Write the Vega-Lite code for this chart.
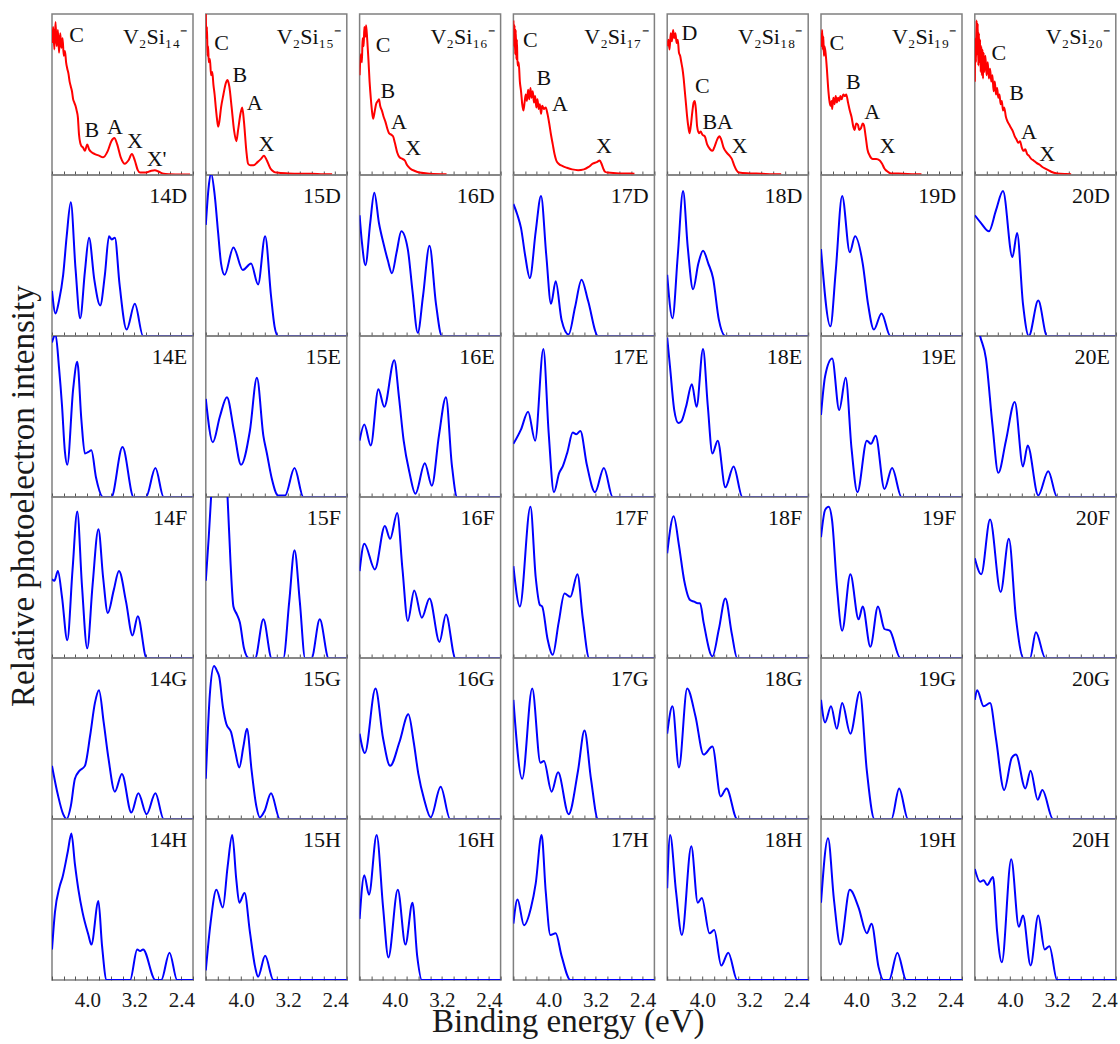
{
"$schema":"https://vega.github.io/schema/vega-lite/v6.json",
"background":"white",
"padding":{"left":8,"top":13,"right":0,"bottom":0},
"title":{"text":"Relative photoelectron intensity","orient":"left","anchor":"middle","fontSize":33,"fontWeight":"normal","font":"Liberation Serif","color":"#1a1a1a","offset":10,"dx":30},
"config":{"font":"Liberation Serif","view":{"stroke":"#808080","strokeWidth":1.5},"text":{"font":"Liberation Serif","fontSize":22,"baseline":"middle","color":"#111"}},
"datasets":{"s":[
{"c":14,"r":"X","x":4.6,"y":82},{"c":14,"r":"X","x":4.58,"y":92},{"c":14,"r":"X","x":4.56,"y":78},{"c":14,"r":"X","x":4.54,"y":95},{"c":14,"r":"X","x":4.52,"y":80},{"c":14,"r":"X","x":4.5,"y":90},{"c":14,"r":"X","x":4.48,"y":76},{"c":14,"r":"X","x":4.46,"y":88},{"c":14,"r":"X","x":4.44,"y":79},{"c":14,"r":"X","x":4.42,"y":85},{"c":14,"r":"X","x":4.4,"y":74},{"c":14,"r":"X","x":4.38,"y":77},{"c":14,"r":"X","x":4.36,"y":70},{"c":14,"r":"X","x":4.34,"y":66},{"c":14,"r":"X","x":4.32,"y":63},{"c":14,"r":"X","x":4.3,"y":58},{"c":14,"r":"X","x":4.28,"y":55},{"c":14,"r":"X","x":4.26,"y":52},{"c":14,"r":"X","x":4.24,"y":47},{"c":14,"r":"X","x":4.22,"y":45},{"c":14,"r":"X","x":4.2,"y":43},{"c":14,"r":"X","x":4.18,"y":40},{"c":14,"r":"X","x":4.16,"y":36},{"c":14,"r":"X","x":4.14,"y":25},{"c":14,"r":"X","x":4.12,"y":20},{"c":14,"r":"X","x":4.1,"y":18},{"c":14,"r":"X","x":4.07,"y":17},{"c":14,"r":"X","x":4.04,"y":15},{"c":14,"r":"X","x":4.0,"y":19},{"c":14,"r":"X","x":3.97,"y":16},{"c":14,"r":"X","x":3.92,"y":14},{"c":14,"r":"X","x":3.87,"y":13},{"c":14,"r":"X","x":3.8,"y":12},{"c":14,"r":"X","x":3.73,"y":11},{"c":14,"r":"X","x":3.65,"y":15},{"c":14,"r":"X","x":3.59,"y":21},{"c":14,"r":"X","x":3.54,"y":23},{"c":14,"r":"X","x":3.49,"y":19},{"c":14,"r":"X","x":3.43,"y":11},{"c":14,"r":"X","x":3.36,"y":7},{"c":14,"r":"X","x":3.3,"y":9},{"c":14,"r":"X","x":3.24,"y":13},{"c":14,"r":"X","x":3.19,"y":9},{"c":14,"r":"X","x":3.14,"y":3},{"c":14,"r":"X","x":3.1,"y":1.5},{"c":14,"r":"X","x":3.0,"y":1.5},{"c":14,"r":"X","x":2.92,"y":2.5},{"c":14,"r":"X","x":2.85,"y":3},{"c":14,"r":"X","x":2.78,"y":2},{"c":14,"r":"X","x":2.7,"y":0.8},{"c":14,"r":"X","x":2.6,"y":0.5},{"c":14,"r":"X","x":2.4,"y":0.3},{"c":14,"r":"X","x":2.25,"y":0.3},
{"c":15,"r":"X","x":4.6,"y":100},{"c":15,"r":"X","x":4.59,"y":85},{"c":15,"r":"X","x":4.58,"y":92},{"c":15,"r":"X","x":4.57,"y":74},{"c":15,"r":"X","x":4.56,"y":80},{"c":15,"r":"X","x":4.55,"y":70},{"c":15,"r":"X","x":4.53,"y":72},{"c":15,"r":"X","x":4.51,"y":62},{"c":15,"r":"X","x":4.49,"y":64},{"c":15,"r":"X","x":4.47,"y":56},{"c":15,"r":"X","x":4.45,"y":50},{"c":15,"r":"X","x":4.43,"y":42},{"c":15,"r":"X","x":4.41,"y":35},{"c":15,"r":"X","x":4.39,"y":30},{"c":15,"r":"X","x":4.37,"y":33},{"c":15,"r":"X","x":4.34,"y":42},{"c":15,"r":"X","x":4.3,"y":50},{"c":15,"r":"X","x":4.26,"y":57},{"c":15,"r":"X","x":4.23,"y":59},{"c":15,"r":"X","x":4.2,"y":55},{"c":15,"r":"X","x":4.16,"y":42},{"c":15,"r":"X","x":4.12,"y":28},{"c":15,"r":"X","x":4.08,"y":21},{"c":15,"r":"X","x":4.05,"y":28},{"c":15,"r":"X","x":4.01,"y":38},{"c":15,"r":"X","x":3.98,"y":42},{"c":15,"r":"X","x":3.95,"y":33},{"c":15,"r":"X","x":3.91,"y":15},{"c":15,"r":"X","x":3.88,"y":7},{"c":15,"r":"X","x":3.84,"y":6},{"c":15,"r":"X","x":3.79,"y":6},{"c":15,"r":"X","x":3.72,"y":8},{"c":15,"r":"X","x":3.66,"y":10},{"c":15,"r":"X","x":3.61,"y":12},{"c":15,"r":"X","x":3.56,"y":9},{"c":15,"r":"X","x":3.5,"y":4},{"c":15,"r":"X","x":3.44,"y":2},{"c":15,"r":"X","x":3.39,"y":1.5},{"c":15,"r":"X","x":3.2,"y":1},{"c":15,"r":"X","x":3.0,"y":0.8},{"c":15,"r":"X","x":2.8,"y":0.8},{"c":15,"r":"X","x":2.6,"y":0.5},{"c":15,"r":"X","x":2.45,"y":0.5},
{"c":16,"r":"X","x":4.6,"y":62},{"c":16,"r":"X","x":4.58,"y":75},{"c":16,"r":"X","x":4.56,"y":70},{"c":16,"r":"X","x":4.55,"y":85},{"c":16,"r":"X","x":4.53,"y":80},{"c":16,"r":"X","x":4.52,"y":92},{"c":16,"r":"X","x":4.5,"y":86},{"c":16,"r":"X","x":4.49,"y":93},{"c":16,"r":"X","x":4.47,"y":84},{"c":16,"r":"X","x":4.45,"y":72},{"c":16,"r":"X","x":4.43,"y":58},{"c":16,"r":"X","x":4.41,"y":48},{"c":16,"r":"X","x":4.39,"y":40},{"c":16,"r":"X","x":4.37,"y":35},{"c":16,"r":"X","x":4.35,"y":38},{"c":16,"r":"X","x":4.32,"y":44},{"c":16,"r":"X","x":4.29,"y":46},{"c":16,"r":"X","x":4.27,"y":47},{"c":16,"r":"X","x":4.25,"y":43},{"c":16,"r":"X","x":4.22,"y":40},{"c":16,"r":"X","x":4.19,"y":36},{"c":16,"r":"X","x":4.16,"y":33},{"c":16,"r":"X","x":4.13,"y":29},{"c":16,"r":"X","x":4.1,"y":26},{"c":16,"r":"X","x":4.06,"y":25},{"c":16,"r":"X","x":4.03,"y":24},{"c":16,"r":"X","x":4.0,"y":20},{"c":16,"r":"X","x":3.96,"y":14},{"c":16,"r":"X","x":3.92,"y":11},{"c":16,"r":"X","x":3.87,"y":10},{"c":16,"r":"X","x":3.83,"y":9},{"c":16,"r":"X","x":3.79,"y":6},{"c":16,"r":"X","x":3.74,"y":4},{"c":16,"r":"X","x":3.66,"y":2.5},{"c":16,"r":"X","x":3.58,"y":1.5},{"c":16,"r":"X","x":3.4,"y":0.8},{"c":16,"r":"X","x":3.12,"y":0.5},
{"c":17,"r":"X","x":4.6,"y":96},{"c":17,"r":"X","x":4.59,"y":80},{"c":17,"r":"X","x":4.58,"y":93},{"c":17,"r":"X","x":4.57,"y":75},{"c":17,"r":"X","x":4.56,"y":90},{"c":17,"r":"X","x":4.55,"y":72},{"c":17,"r":"X","x":4.54,"y":84},{"c":17,"r":"X","x":4.53,"y":68},{"c":17,"r":"X","x":4.51,"y":70},{"c":17,"r":"X","x":4.49,"y":58},{"c":17,"r":"X","x":4.47,"y":52},{"c":17,"r":"X","x":4.45,"y":44},{"c":17,"r":"X","x":4.43,"y":40},{"c":17,"r":"X","x":4.41,"y":45},{"c":17,"r":"X","x":4.39,"y":50},{"c":17,"r":"X","x":4.37,"y":46},{"c":17,"r":"X","x":4.35,"y":53},{"c":17,"r":"X","x":4.33,"y":47},{"c":17,"r":"X","x":4.31,"y":54},{"c":17,"r":"X","x":4.29,"y":48},{"c":17,"r":"X","x":4.27,"y":52},{"c":17,"r":"X","x":4.25,"y":45},{"c":17,"r":"X","x":4.23,"y":49},{"c":17,"r":"X","x":4.21,"y":42},{"c":17,"r":"X","x":4.19,"y":47},{"c":17,"r":"X","x":4.17,"y":41},{"c":17,"r":"X","x":4.15,"y":44},{"c":17,"r":"X","x":4.13,"y":38},{"c":17,"r":"X","x":4.11,"y":43},{"c":17,"r":"X","x":4.08,"y":41},{"c":17,"r":"X","x":4.05,"y":42},{"c":17,"r":"X","x":4.02,"y":38},{"c":17,"r":"X","x":3.99,"y":32},{"c":17,"r":"X","x":3.96,"y":25},{"c":17,"r":"X","x":3.93,"y":19},{"c":17,"r":"X","x":3.9,"y":13},{"c":17,"r":"X","x":3.87,"y":9},{"c":17,"r":"X","x":3.83,"y":7},{"c":17,"r":"X","x":3.76,"y":5.5},{"c":17,"r":"X","x":3.69,"y":4.5},{"c":17,"r":"X","x":3.6,"y":3.5},{"c":17,"r":"X","x":3.5,"y":3},{"c":17,"r":"X","x":3.4,"y":3.5},{"c":17,"r":"X","x":3.32,"y":5},{"c":17,"r":"X","x":3.25,"y":7},{"c":17,"r":"X","x":3.18,"y":8},{"c":17,"r":"X","x":3.13,"y":9},{"c":17,"r":"X","x":3.1,"y":7},{"c":17,"r":"X","x":3.07,"y":4},{"c":17,"r":"X","x":3.04,"y":2},{"c":17,"r":"X","x":3.0,"y":1.5},{"c":17,"r":"X","x":2.8,"y":1},{"c":17,"r":"X","x":2.6,"y":1},{"c":17,"r":"X","x":2.54,"y":0.8},
{"c":18,"r":"X","x":4.6,"y":80},{"c":18,"r":"X","x":4.58,"y":84},{"c":18,"r":"X","x":4.56,"y":78},{"c":18,"r":"X","x":4.54,"y":88},{"c":18,"r":"X","x":4.52,"y":83},{"c":18,"r":"X","x":4.5,"y":90},{"c":18,"r":"X","x":4.48,"y":85},{"c":18,"r":"X","x":4.46,"y":88},{"c":18,"r":"X","x":4.44,"y":82},{"c":18,"r":"X","x":4.42,"y":84},{"c":18,"r":"X","x":4.4,"y":76},{"c":18,"r":"X","x":4.38,"y":74},{"c":18,"r":"X","x":4.36,"y":70},{"c":18,"r":"X","x":4.34,"y":66},{"c":18,"r":"X","x":4.32,"y":60},{"c":18,"r":"X","x":4.3,"y":52},{"c":18,"r":"X","x":4.28,"y":44},{"c":18,"r":"X","x":4.26,"y":36},{"c":18,"r":"X","x":4.24,"y":30},{"c":18,"r":"X","x":4.22,"y":26},{"c":18,"r":"X","x":4.2,"y":30},{"c":18,"r":"X","x":4.17,"y":40},{"c":18,"r":"X","x":4.15,"y":45},{"c":18,"r":"X","x":4.13,"y":46},{"c":18,"r":"X","x":4.11,"y":40},{"c":18,"r":"X","x":4.09,"y":30},{"c":18,"r":"X","x":4.06,"y":26},{"c":18,"r":"X","x":4.03,"y":27},{"c":18,"r":"X","x":4.0,"y":25},{"c":18,"r":"X","x":3.96,"y":24},{"c":18,"r":"X","x":3.92,"y":19},{"c":18,"r":"X","x":3.87,"y":16},{"c":18,"r":"X","x":3.83,"y":15},{"c":18,"r":"X","x":3.79,"y":18},{"c":18,"r":"X","x":3.75,"y":22},{"c":18,"r":"X","x":3.71,"y":24},{"c":18,"r":"X","x":3.68,"y":22},{"c":18,"r":"X","x":3.64,"y":17},{"c":18,"r":"X","x":3.59,"y":14},{"c":18,"r":"X","x":3.54,"y":12},{"c":18,"r":"X","x":3.5,"y":10},{"c":18,"r":"X","x":3.46,"y":6},{"c":18,"r":"X","x":3.42,"y":3},{"c":18,"r":"X","x":3.38,"y":1.5},{"c":18,"r":"X","x":3.2,"y":1},{"c":18,"r":"X","x":3.0,"y":0.8},{"c":18,"r":"X","x":2.8,"y":0.5},{"c":18,"r":"X","x":2.66,"y":0.5},
{"c":19,"r":"X","x":4.6,"y":88},{"c":19,"r":"X","x":4.59,"y":80},{"c":19,"r":"X","x":4.58,"y":90},{"c":19,"r":"X","x":4.57,"y":78},{"c":19,"r":"X","x":4.56,"y":86},{"c":19,"r":"X","x":4.55,"y":74},{"c":19,"r":"X","x":4.54,"y":80},{"c":19,"r":"X","x":4.52,"y":75},{"c":19,"r":"X","x":4.5,"y":66},{"c":19,"r":"X","x":4.48,"y":55},{"c":19,"r":"X","x":4.46,"y":47},{"c":19,"r":"X","x":4.44,"y":43},{"c":19,"r":"X","x":4.42,"y":46},{"c":19,"r":"X","x":4.41,"y":41},{"c":19,"r":"X","x":4.39,"y":48},{"c":19,"r":"X","x":4.37,"y":44},{"c":19,"r":"X","x":4.35,"y":49},{"c":19,"r":"X","x":4.33,"y":45},{"c":19,"r":"X","x":4.31,"y":48},{"c":19,"r":"X","x":4.29,"y":46},{"c":19,"r":"X","x":4.27,"y":49},{"c":19,"r":"X","x":4.25,"y":47},{"c":19,"r":"X","x":4.22,"y":50},{"c":19,"r":"X","x":4.19,"y":49},{"c":19,"r":"X","x":4.17,"y":50},{"c":19,"r":"X","x":4.14,"y":45},{"c":19,"r":"X","x":4.11,"y":40},{"c":19,"r":"X","x":4.08,"y":36},{"c":19,"r":"X","x":4.05,"y":30},{"c":19,"r":"X","x":4.03,"y":28},{"c":19,"r":"X","x":4.0,"y":32},{"c":19,"r":"X","x":3.97,"y":31},{"c":19,"r":"X","x":3.95,"y":28},{"c":19,"r":"X","x":3.92,"y":29},{"c":19,"r":"X","x":3.89,"y":32},{"c":19,"r":"X","x":3.87,"y":31},{"c":19,"r":"X","x":3.84,"y":24},{"c":19,"r":"X","x":3.81,"y":16},{"c":19,"r":"X","x":3.77,"y":12},{"c":19,"r":"X","x":3.72,"y":10},{"c":19,"r":"X","x":3.66,"y":10},{"c":19,"r":"X","x":3.6,"y":9},{"c":19,"r":"X","x":3.56,"y":7},{"c":19,"r":"X","x":3.52,"y":4},{"c":19,"r":"X","x":3.48,"y":2.5},{"c":19,"r":"X","x":3.41,"y":1},{"c":19,"r":"X","x":3.2,"y":0.8},{"c":19,"r":"X","x":3.0,"y":0.5},{"c":19,"r":"X","x":2.89,"y":0.5},
{"c":20,"r":"X","x":4.6,"y":58},{"c":20,"r":"X","x":4.59,"y":85},{"c":20,"r":"X","x":4.58,"y":70},{"c":20,"r":"X","x":4.57,"y":96},{"c":20,"r":"X","x":4.56,"y":75},{"c":20,"r":"X","x":4.55,"y":94},{"c":20,"r":"X","x":4.54,"y":68},{"c":20,"r":"X","x":4.53,"y":88},{"c":20,"r":"X","x":4.52,"y":70},{"c":20,"r":"X","x":4.51,"y":84},{"c":20,"r":"X","x":4.5,"y":64},{"c":20,"r":"X","x":4.49,"y":80},{"c":20,"r":"X","x":4.48,"y":62},{"c":20,"r":"X","x":4.47,"y":78},{"c":20,"r":"X","x":4.46,"y":60},{"c":20,"r":"X","x":4.45,"y":76},{"c":20,"r":"X","x":4.44,"y":64},{"c":20,"r":"X","x":4.42,"y":74},{"c":20,"r":"X","x":4.4,"y":62},{"c":20,"r":"X","x":4.38,"y":70},{"c":20,"r":"X","x":4.36,"y":60},{"c":20,"r":"X","x":4.34,"y":66},{"c":20,"r":"X","x":4.32,"y":58},{"c":20,"r":"X","x":4.3,"y":62},{"c":20,"r":"X","x":4.28,"y":52},{"c":20,"r":"X","x":4.26,"y":58},{"c":20,"r":"X","x":4.24,"y":50},{"c":20,"r":"X","x":4.22,"y":54},{"c":20,"r":"X","x":4.2,"y":48},{"c":20,"r":"X","x":4.18,"y":50},{"c":20,"r":"X","x":4.16,"y":44},{"c":20,"r":"X","x":4.14,"y":46},{"c":20,"r":"X","x":4.12,"y":40},{"c":20,"r":"X","x":4.1,"y":42},{"c":20,"r":"X","x":4.07,"y":36},{"c":20,"r":"X","x":4.04,"y":33},{"c":20,"r":"X","x":4.01,"y":31},{"c":20,"r":"X","x":3.98,"y":29},{"c":20,"r":"X","x":3.95,"y":27},{"c":20,"r":"X","x":3.92,"y":24},{"c":20,"r":"X","x":3.89,"y":22},{"c":20,"r":"X","x":3.86,"y":20},{"c":20,"r":"X","x":3.83,"y":21},{"c":20,"r":"X","x":3.8,"y":17},{"c":20,"r":"X","x":3.77,"y":15},{"c":20,"r":"X","x":3.74,"y":16},{"c":20,"r":"X","x":3.71,"y":13},{"c":20,"r":"X","x":3.68,"y":12},{"c":20,"r":"X","x":3.64,"y":10},{"c":20,"r":"X","x":3.6,"y":9},{"c":20,"r":"X","x":3.55,"y":7.5},{"c":20,"r":"X","x":3.5,"y":6.5},{"c":20,"r":"X","x":3.45,"y":5},{"c":20,"r":"X","x":3.4,"y":4},{"c":20,"r":"X","x":3.35,"y":3},{"c":20,"r":"X","x":3.3,"y":2},{"c":20,"r":"X","x":3.2,"y":1},{"c":20,"r":"X","x":3.05,"y":0.6},{"c":20,"r":"X","x":2.96,"y":0.5},
{"c":14,"r":"D","x":4.6,"y":28},{"c":14,"r":"D","x":4.54,"y":14},{"c":14,"r":"D","x":4.48,"y":22},{"c":14,"r":"D","x":4.41,"y":38},{"c":14,"r":"D","x":4.35,"y":62},{"c":14,"r":"D","x":4.28,"y":83},{"c":14,"r":"D","x":4.2,"y":42},{"c":14,"r":"D","x":4.12,"y":11},{"c":14,"r":"D","x":4.04,"y":40},{"c":14,"r":"D","x":3.97,"y":61},{"c":14,"r":"D","x":3.88,"y":35},{"c":14,"r":"D","x":3.78,"y":19},{"c":14,"r":"D","x":3.7,"y":38},{"c":14,"r":"D","x":3.63,"y":62},{"c":14,"r":"D","x":3.585,"y":60},{"c":14,"r":"D","x":3.53,"y":61},{"c":14,"r":"D","x":3.45,"y":32},{"c":14,"r":"D","x":3.33,"y":4},{"c":14,"r":"D","x":3.19,"y":20},{"c":14,"r":"D","x":3.05,"y":0},{"c":14,"r":"D","x":2.2,"y":0},
{"c":14,"r":"E","x":4.6,"y":96},{"c":14,"r":"E","x":4.54,"y":101},{"c":14,"r":"E","x":4.48,"y":80},{"c":14,"r":"E","x":4.43,"y":57},{"c":14,"r":"E","x":4.38,"y":28},{"c":14,"r":"E","x":4.34,"y":20},{"c":14,"r":"E","x":4.24,"y":67},{"c":14,"r":"E","x":4.17,"y":84},{"c":14,"r":"E","x":4.1,"y":48},{"c":14,"r":"E","x":4.04,"y":27},{"c":14,"r":"E","x":3.98,"y":28},{"c":14,"r":"E","x":3.93,"y":29},{"c":14,"r":"E","x":3.85,"y":12},{"c":14,"r":"E","x":3.73,"y":0},{"c":14,"r":"E","x":3.59,"y":0},{"c":14,"r":"E","x":3.4,"y":31},{"c":14,"r":"E","x":3.21,"y":0},{"c":14,"r":"E","x":3.0,"y":0},{"c":14,"r":"E","x":2.84,"y":18},{"c":14,"r":"E","x":2.7,"y":0},{"c":14,"r":"E","x":2.2,"y":0},
{"c":14,"r":"F","x":4.6,"y":49},{"c":14,"r":"F","x":4.56,"y":48},{"c":14,"r":"F","x":4.5,"y":54},{"c":14,"r":"F","x":4.43,"y":38},{"c":14,"r":"F","x":4.34,"y":11},{"c":14,"r":"F","x":4.25,"y":55},{"c":14,"r":"F","x":4.17,"y":91},{"c":14,"r":"F","x":4.09,"y":45},{"c":14,"r":"F","x":4.0,"y":6},{"c":14,"r":"F","x":3.91,"y":45},{"c":14,"r":"F","x":3.81,"y":80},{"c":14,"r":"F","x":3.73,"y":50},{"c":14,"r":"F","x":3.65,"y":28},{"c":14,"r":"F","x":3.55,"y":42},{"c":14,"r":"F","x":3.46,"y":54},{"c":14,"r":"F","x":3.34,"y":35},{"c":14,"r":"F","x":3.23,"y":14},{"c":14,"r":"F","x":3.14,"y":26},{"c":14,"r":"F","x":2.99,"y":0},{"c":14,"r":"F","x":2.2,"y":0},
{"c":14,"r":"G","x":4.6,"y":33},{"c":14,"r":"G","x":4.5,"y":15},{"c":14,"r":"G","x":4.41,"y":3},{"c":14,"r":"G","x":4.35,"y":0},{"c":14,"r":"G","x":4.28,"y":8},{"c":14,"r":"G","x":4.21,"y":25},{"c":14,"r":"G","x":4.13,"y":30},{"c":14,"r":"G","x":4.04,"y":33},{"c":14,"r":"G","x":3.95,"y":52},{"c":14,"r":"G","x":3.87,"y":72},{"c":14,"r":"G","x":3.8,"y":80},{"c":14,"r":"G","x":3.72,"y":60},{"c":14,"r":"G","x":3.64,"y":38},{"c":14,"r":"G","x":3.53,"y":17},{"c":14,"r":"G","x":3.41,"y":28},{"c":14,"r":"G","x":3.25,"y":4},{"c":14,"r":"G","x":3.13,"y":16},{"c":14,"r":"G","x":2.99,"y":3},{"c":14,"r":"G","x":2.84,"y":16},{"c":14,"r":"G","x":2.7,"y":0},{"c":14,"r":"G","x":2.2,"y":0},
{"c":14,"r":"H","x":4.6,"y":19},{"c":14,"r":"H","x":4.55,"y":42},{"c":14,"r":"H","x":4.47,"y":58},{"c":14,"r":"H","x":4.42,"y":64},{"c":14,"r":"H","x":4.33,"y":80},{"c":14,"r":"H","x":4.27,"y":91},{"c":14,"r":"H","x":4.21,"y":72},{"c":14,"r":"H","x":4.15,"y":56},{"c":14,"r":"H","x":4.08,"y":42},{"c":14,"r":"H","x":3.98,"y":28},{"c":14,"r":"H","x":3.93,"y":22},{"c":14,"r":"H","x":3.81,"y":49},{"c":14,"r":"H","x":3.75,"y":22},{"c":14,"r":"H","x":3.67,"y":0},{"c":14,"r":"H","x":3.27,"y":0},{"c":14,"r":"H","x":3.15,"y":19},{"c":14,"r":"H","x":3.1,"y":18},{"c":14,"r":"H","x":3.05,"y":19},{"c":14,"r":"H","x":2.84,"y":0},{"c":14,"r":"H","x":2.74,"y":0},{"c":14,"r":"H","x":2.6,"y":17},{"c":14,"r":"H","x":2.47,"y":0},{"c":14,"r":"H","x":2.2,"y":0},
{"c":15,"r":"D","x":4.6,"y":69},{"c":15,"r":"D","x":4.55,"y":93},{"c":15,"r":"D","x":4.51,"y":101},{"c":15,"r":"D","x":4.45,"y":88},{"c":15,"r":"D","x":4.39,"y":64},{"c":15,"r":"D","x":4.34,"y":45},{"c":15,"r":"D","x":4.28,"y":38},{"c":15,"r":"D","x":4.13,"y":55},{"c":15,"r":"D","x":3.97,"y":41},{"c":15,"r":"D","x":3.83,"y":45},{"c":15,"r":"D","x":3.71,"y":32},{"c":15,"r":"D","x":3.59,"y":62},{"c":15,"r":"D","x":3.49,"y":25},{"c":15,"r":"D","x":3.43,"y":6},{"c":15,"r":"D","x":3.37,"y":0},{"c":15,"r":"D","x":2.2,"y":0},
{"c":15,"r":"E","x":4.6,"y":61},{"c":15,"r":"E","x":4.48,"y":34},{"c":15,"r":"E","x":4.36,"y":50},{"c":15,"r":"E","x":4.24,"y":62},{"c":15,"r":"E","x":4.12,"y":41},{"c":15,"r":"E","x":4.0,"y":20},{"c":15,"r":"E","x":3.85,"y":41},{"c":15,"r":"E","x":3.73,"y":74},{"c":15,"r":"E","x":3.62,"y":38},{"c":15,"r":"E","x":3.56,"y":27},{"c":15,"r":"E","x":3.48,"y":12},{"c":15,"r":"E","x":3.37,"y":1},{"c":15,"r":"E","x":3.25,"y":1},{"c":15,"r":"E","x":3.09,"y":18},{"c":15,"r":"E","x":2.94,"y":0},{"c":15,"r":"E","x":2.2,"y":0},
{"c":15,"r":"F","x":4.6,"y":48},{"c":15,"r":"F","x":4.55,"y":75},{"c":15,"r":"F","x":4.51,"y":100},{"c":15,"r":"F","x":4.45,"y":135},{"c":15,"r":"F","x":4.38,"y":145},{"c":15,"r":"F","x":4.3,"y":135},{"c":15,"r":"F","x":4.23,"y":100},{"c":15,"r":"F","x":4.18,"y":60},{"c":15,"r":"F","x":4.13,"y":32},{"c":15,"r":"F","x":4.07,"y":27},{"c":15,"r":"F","x":4.02,"y":22},{"c":15,"r":"F","x":3.95,"y":6},{"c":15,"r":"F","x":3.87,"y":0},{"c":15,"r":"F","x":3.76,"y":0},{"c":15,"r":"F","x":3.62,"y":24},{"c":15,"r":"F","x":3.48,"y":0},{"c":15,"r":"F","x":3.28,"y":0},{"c":15,"r":"F","x":3.18,"y":35},{"c":15,"r":"F","x":3.09,"y":67},{"c":15,"r":"F","x":3.0,"y":35},{"c":15,"r":"F","x":2.91,"y":0},{"c":15,"r":"F","x":2.8,"y":0},{"c":15,"r":"F","x":2.66,"y":24},{"c":15,"r":"F","x":2.51,"y":0},{"c":15,"r":"F","x":2.2,"y":0},
{"c":15,"r":"G","x":4.6,"y":25},{"c":15,"r":"G","x":4.53,"y":78},{"c":15,"r":"G","x":4.46,"y":95},{"c":15,"r":"G","x":4.41,"y":92},{"c":15,"r":"G","x":4.37,"y":88},{"c":15,"r":"G","x":4.31,"y":70},{"c":15,"r":"G","x":4.25,"y":59},{"c":15,"r":"G","x":4.17,"y":54},{"c":15,"r":"G","x":4.1,"y":42},{"c":15,"r":"G","x":4.03,"y":32},{"c":15,"r":"G","x":3.96,"y":45},{"c":15,"r":"G","x":3.9,"y":56},{"c":15,"r":"G","x":3.82,"y":30},{"c":15,"r":"G","x":3.74,"y":8},{"c":15,"r":"G","x":3.68,"y":1},{"c":15,"r":"G","x":3.6,"y":5},{"c":15,"r":"G","x":3.49,"y":16},{"c":15,"r":"G","x":3.34,"y":0},{"c":15,"r":"G","x":2.2,"y":0},
{"c":15,"r":"H","x":4.6,"y":6},{"c":15,"r":"H","x":4.52,"y":35},{"c":15,"r":"H","x":4.42,"y":56},{"c":15,"r":"H","x":4.31,"y":45},{"c":15,"r":"H","x":4.23,"y":70},{"c":15,"r":"H","x":4.15,"y":90},{"c":15,"r":"H","x":4.08,"y":62},{"c":15,"r":"H","x":4.03,"y":48},{"c":15,"r":"H","x":3.94,"y":54},{"c":15,"r":"H","x":3.85,"y":30},{"c":15,"r":"H","x":3.76,"y":8},{"c":15,"r":"H","x":3.71,"y":2},{"c":15,"r":"H","x":3.59,"y":15},{"c":15,"r":"H","x":3.45,"y":0},{"c":15,"r":"H","x":2.2,"y":0},
{"c":16,"r":"D","x":4.6,"y":75},{"c":16,"r":"D","x":4.56,"y":58},{"c":16,"r":"D","x":4.5,"y":44},{"c":16,"r":"D","x":4.42,"y":70},{"c":16,"r":"D","x":4.35,"y":89},{"c":16,"r":"D","x":4.27,"y":70},{"c":16,"r":"D","x":4.19,"y":57},{"c":16,"r":"D","x":4.12,"y":47},{"c":16,"r":"D","x":4.05,"y":39},{"c":16,"r":"D","x":3.97,"y":52},{"c":16,"r":"D","x":3.89,"y":65},{"c":16,"r":"D","x":3.78,"y":54},{"c":16,"r":"D","x":3.7,"y":28},{"c":16,"r":"D","x":3.61,"y":2},{"c":16,"r":"D","x":3.52,"y":25},{"c":16,"r":"D","x":3.41,"y":56},{"c":16,"r":"D","x":3.3,"y":20},{"c":16,"r":"D","x":3.2,"y":0},{"c":16,"r":"D","x":2.2,"y":0},
{"c":16,"r":"E","x":4.6,"y":35},{"c":16,"r":"E","x":4.52,"y":45},{"c":16,"r":"E","x":4.41,"y":32},{"c":16,"r":"E","x":4.28,"y":67},{"c":16,"r":"E","x":4.18,"y":56},{"c":16,"r":"E","x":4.01,"y":85},{"c":16,"r":"E","x":3.93,"y":62},{"c":16,"r":"E","x":3.85,"y":35},{"c":16,"r":"E","x":3.75,"y":15},{"c":16,"r":"E","x":3.65,"y":2},{"c":16,"r":"E","x":3.49,"y":21},{"c":16,"r":"E","x":3.37,"y":7},{"c":16,"r":"E","x":3.25,"y":38},{"c":16,"r":"E","x":3.13,"y":62},{"c":16,"r":"E","x":3.03,"y":20},{"c":16,"r":"E","x":2.94,"y":0},{"c":16,"r":"E","x":2.2,"y":0},
{"c":16,"r":"F","x":4.6,"y":54},{"c":16,"r":"F","x":4.52,"y":71},{"c":16,"r":"F","x":4.34,"y":55},{"c":16,"r":"F","x":4.17,"y":82},{"c":16,"r":"F","x":4.08,"y":74},{"c":16,"r":"F","x":3.96,"y":90},{"c":16,"r":"F","x":3.87,"y":55},{"c":16,"r":"F","x":3.78,"y":23},{"c":16,"r":"F","x":3.67,"y":42},{"c":16,"r":"F","x":3.54,"y":25},{"c":16,"r":"F","x":3.41,"y":37},{"c":16,"r":"F","x":3.24,"y":10},{"c":16,"r":"F","x":3.13,"y":27},{"c":16,"r":"F","x":2.97,"y":0},{"c":16,"r":"F","x":2.2,"y":0},
{"c":16,"r":"G","x":4.6,"y":53},{"c":16,"r":"G","x":4.51,"y":41},{"c":16,"r":"G","x":4.33,"y":81},{"c":16,"r":"G","x":4.2,"y":50},{"c":16,"r":"G","x":4.08,"y":33},{"c":16,"r":"G","x":3.92,"y":48},{"c":16,"r":"G","x":3.77,"y":65},{"c":16,"r":"G","x":3.68,"y":48},{"c":16,"r":"G","x":3.6,"y":28},{"c":16,"r":"G","x":3.5,"y":12},{"c":16,"r":"G","x":3.39,"y":1},{"c":16,"r":"G","x":3.22,"y":20},{"c":16,"r":"G","x":3.06,"y":0},{"c":16,"r":"G","x":2.2,"y":0},
{"c":16,"r":"H","x":4.6,"y":38},{"c":16,"r":"H","x":4.52,"y":65},{"c":16,"r":"H","x":4.44,"y":53},{"c":16,"r":"H","x":4.31,"y":90},{"c":16,"r":"H","x":4.2,"y":45},{"c":16,"r":"H","x":4.11,"y":14},{"c":16,"r":"H","x":3.95,"y":56},{"c":16,"r":"H","x":3.82,"y":22},{"c":16,"r":"H","x":3.7,"y":48},{"c":16,"r":"H","x":3.62,"y":15},{"c":16,"r":"H","x":3.54,"y":0},{"c":16,"r":"H","x":2.2,"y":0},
{"c":17,"r":"D","x":4.6,"y":82},{"c":17,"r":"D","x":4.53,"y":75},{"c":17,"r":"D","x":4.47,"y":67},{"c":17,"r":"D","x":4.4,"y":50},{"c":17,"r":"D","x":4.32,"y":36},{"c":17,"r":"D","x":4.22,"y":65},{"c":17,"r":"D","x":4.13,"y":87},{"c":17,"r":"D","x":4.04,"y":50},{"c":17,"r":"D","x":3.96,"y":20},{"c":17,"r":"D","x":3.88,"y":34},{"c":17,"r":"D","x":3.78,"y":10},{"c":17,"r":"D","x":3.66,"y":1},{"c":17,"r":"D","x":3.55,"y":18},{"c":17,"r":"D","x":3.44,"y":35},{"c":17,"r":"D","x":3.33,"y":22},{"c":17,"r":"D","x":3.16,"y":0},{"c":17,"r":"D","x":2.2,"y":0},
{"c":17,"r":"E","x":4.6,"y":33},{"c":17,"r":"E","x":4.47,"y":42},{"c":17,"r":"E","x":4.35,"y":53},{"c":17,"r":"E","x":4.23,"y":35},{"c":17,"r":"E","x":4.09,"y":92},{"c":17,"r":"E","x":4.0,"y":40},{"c":17,"r":"E","x":3.91,"y":3},{"c":17,"r":"E","x":3.82,"y":15},{"c":17,"r":"E","x":3.76,"y":19},{"c":17,"r":"E","x":3.68,"y":28},{"c":17,"r":"E","x":3.59,"y":40},{"c":17,"r":"E","x":3.53,"y":39},{"c":17,"r":"E","x":3.46,"y":41},{"c":17,"r":"E","x":3.35,"y":20},{"c":17,"r":"E","x":3.21,"y":3},{"c":17,"r":"E","x":3.06,"y":18},{"c":17,"r":"E","x":2.91,"y":0},{"c":17,"r":"E","x":2.2,"y":0},
{"c":17,"r":"F","x":4.6,"y":57},{"c":17,"r":"F","x":4.49,"y":32},{"c":17,"r":"F","x":4.31,"y":94},{"c":17,"r":"F","x":4.22,"y":50},{"c":17,"r":"F","x":4.15,"y":33},{"c":17,"r":"F","x":4.11,"y":32},{"c":17,"r":"F","x":4.02,"y":12},{"c":17,"r":"F","x":3.93,"y":2},{"c":17,"r":"F","x":3.83,"y":22},{"c":17,"r":"F","x":3.73,"y":40},{"c":17,"r":"F","x":3.63,"y":38},{"c":17,"r":"F","x":3.51,"y":52},{"c":17,"r":"F","x":3.42,"y":25},{"c":17,"r":"F","x":3.31,"y":0},{"c":17,"r":"F","x":2.2,"y":0},
{"c":17,"r":"G","x":4.6,"y":74},{"c":17,"r":"G","x":4.45,"y":25},{"c":17,"r":"G","x":4.28,"y":81},{"c":17,"r":"G","x":4.14,"y":35},{"c":17,"r":"G","x":4.08,"y":36},{"c":17,"r":"G","x":3.95,"y":17},{"c":17,"r":"G","x":3.84,"y":29},{"c":17,"r":"G","x":3.66,"y":3},{"c":17,"r":"G","x":3.5,"y":30},{"c":17,"r":"G","x":3.39,"y":55},{"c":17,"r":"G","x":3.28,"y":25},{"c":17,"r":"G","x":3.16,"y":0},{"c":17,"r":"G","x":2.2,"y":0},
{"c":17,"r":"H","x":4.6,"y":35},{"c":17,"r":"H","x":4.53,"y":50},{"c":17,"r":"H","x":4.42,"y":34},{"c":17,"r":"H","x":4.3,"y":45},{"c":17,"r":"H","x":4.22,"y":60},{"c":17,"r":"H","x":4.12,"y":90},{"c":17,"r":"H","x":4.05,"y":55},{"c":17,"r":"H","x":3.97,"y":28},{"c":17,"r":"H","x":3.88,"y":29},{"c":17,"r":"H","x":3.78,"y":15},{"c":17,"r":"H","x":3.63,"y":0},{"c":17,"r":"H","x":2.2,"y":0},
{"c":18,"r":"D","x":4.6,"y":38},{"c":18,"r":"D","x":4.51,"y":11},{"c":18,"r":"D","x":4.42,"y":50},{"c":18,"r":"D","x":4.33,"y":90},{"c":18,"r":"D","x":4.25,"y":55},{"c":18,"r":"D","x":4.16,"y":29},{"c":18,"r":"D","x":4.07,"y":45},{"c":18,"r":"D","x":3.99,"y":53},{"c":18,"r":"D","x":3.9,"y":45},{"c":18,"r":"D","x":3.82,"y":36},{"c":18,"r":"D","x":3.72,"y":10},{"c":18,"r":"D","x":3.61,"y":0},{"c":18,"r":"D","x":2.2,"y":0},
{"c":18,"r":"E","x":4.6,"y":99},{"c":18,"r":"E","x":4.55,"y":80},{"c":18,"r":"E","x":4.48,"y":54},{"c":18,"r":"E","x":4.41,"y":46},{"c":18,"r":"E","x":4.36,"y":47},{"c":18,"r":"E","x":4.28,"y":56},{"c":18,"r":"E","x":4.18,"y":70},{"c":18,"r":"E","x":4.1,"y":56},{"c":18,"r":"E","x":3.99,"y":92},{"c":18,"r":"E","x":3.91,"y":57},{"c":18,"r":"E","x":3.83,"y":27},{"c":18,"r":"E","x":3.74,"y":35},{"c":18,"r":"E","x":3.61,"y":6},{"c":18,"r":"E","x":3.47,"y":19},{"c":18,"r":"E","x":3.32,"y":0},{"c":18,"r":"E","x":2.2,"y":0},
{"c":18,"r":"F","x":4.6,"y":65},{"c":18,"r":"F","x":4.49,"y":88},{"c":18,"r":"F","x":4.4,"y":70},{"c":18,"r":"F","x":4.31,"y":48},{"c":18,"r":"F","x":4.21,"y":36},{"c":18,"r":"F","x":4.14,"y":35},{"c":18,"r":"F","x":4.08,"y":34},{"c":18,"r":"F","x":4.04,"y":34},{"c":18,"r":"F","x":3.98,"y":22},{"c":18,"r":"F","x":3.83,"y":1},{"c":18,"r":"F","x":3.72,"y":18},{"c":18,"r":"F","x":3.61,"y":37},{"c":18,"r":"F","x":3.5,"y":15},{"c":18,"r":"F","x":3.41,"y":0},{"c":18,"r":"F","x":2.2,"y":0},
{"c":18,"r":"G","x":4.6,"y":53},{"c":18,"r":"G","x":4.51,"y":70},{"c":18,"r":"G","x":4.4,"y":32},{"c":18,"r":"G","x":4.26,"y":81},{"c":18,"r":"G","x":4.12,"y":64},{"c":18,"r":"G","x":3.98,"y":40},{"c":18,"r":"G","x":3.83,"y":45},{"c":18,"r":"G","x":3.69,"y":14},{"c":18,"r":"G","x":3.59,"y":19},{"c":18,"r":"G","x":3.41,"y":0},{"c":18,"r":"G","x":2.2,"y":0},
{"c":18,"r":"H","x":4.6,"y":57},{"c":18,"r":"H","x":4.55,"y":90},{"c":18,"r":"H","x":4.45,"y":55},{"c":18,"r":"H","x":4.35,"y":28},{"c":18,"r":"H","x":4.19,"y":83},{"c":18,"r":"H","x":4.08,"y":48},{"c":18,"r":"H","x":4.01,"y":51},{"c":18,"r":"H","x":3.88,"y":29},{"c":18,"r":"H","x":3.8,"y":31},{"c":18,"r":"H","x":3.68,"y":9},{"c":18,"r":"H","x":3.56,"y":17},{"c":18,"r":"H","x":3.41,"y":0},{"c":18,"r":"H","x":2.2,"y":0},
{"c":19,"r":"D","x":4.6,"y":54},{"c":19,"r":"D","x":4.44,"y":6},{"c":19,"r":"D","x":4.35,"y":40},{"c":19,"r":"D","x":4.24,"y":87},{"c":19,"r":"D","x":4.11,"y":52},{"c":19,"r":"D","x":4.02,"y":62},{"c":19,"r":"D","x":3.89,"y":45},{"c":19,"r":"D","x":3.8,"y":20},{"c":19,"r":"D","x":3.7,"y":4},{"c":19,"r":"D","x":3.57,"y":14},{"c":19,"r":"D","x":3.42,"y":0},{"c":19,"r":"D","x":2.2,"y":0},
{"c":19,"r":"E","x":4.6,"y":51},{"c":19,"r":"E","x":4.53,"y":75},{"c":19,"r":"E","x":4.41,"y":86},{"c":19,"r":"E","x":4.29,"y":54},{"c":19,"r":"E","x":4.18,"y":74},{"c":19,"r":"E","x":4.08,"y":30},{"c":19,"r":"E","x":3.98,"y":3},{"c":19,"r":"E","x":3.82,"y":35},{"c":19,"r":"E","x":3.75,"y":33},{"c":19,"r":"E","x":3.67,"y":38},{"c":19,"r":"E","x":3.52,"y":5},{"c":19,"r":"E","x":3.39,"y":18},{"c":19,"r":"E","x":3.23,"y":0},{"c":19,"r":"E","x":2.2,"y":0},
{"c":19,"r":"F","x":4.6,"y":75},{"c":19,"r":"F","x":4.53,"y":92},{"c":19,"r":"F","x":4.47,"y":94},{"c":19,"r":"F","x":4.41,"y":85},{"c":19,"r":"F","x":4.33,"y":45},{"c":19,"r":"F","x":4.24,"y":17},{"c":19,"r":"F","x":4.1,"y":52},{"c":19,"r":"F","x":3.96,"y":24},{"c":19,"r":"F","x":3.89,"y":32},{"c":19,"r":"F","x":3.76,"y":7},{"c":19,"r":"F","x":3.63,"y":32},{"c":19,"r":"F","x":3.52,"y":18},{"c":19,"r":"F","x":3.43,"y":17},{"c":19,"r":"F","x":3.25,"y":0},{"c":19,"r":"F","x":2.2,"y":0},
{"c":19,"r":"G","x":4.6,"y":74},{"c":19,"r":"G","x":4.53,"y":60},{"c":19,"r":"G","x":4.43,"y":70},{"c":19,"r":"G","x":4.33,"y":56},{"c":19,"r":"G","x":4.24,"y":72},{"c":19,"r":"G","x":4.1,"y":53},{"c":19,"r":"G","x":3.94,"y":79},{"c":19,"r":"G","x":3.82,"y":30},{"c":19,"r":"G","x":3.69,"y":0},{"c":19,"r":"G","x":3.4,"y":0},{"c":19,"r":"G","x":3.27,"y":19},{"c":19,"r":"G","x":3.12,"y":0},{"c":19,"r":"G","x":2.2,"y":0},
{"c":19,"r":"H","x":4.6,"y":48},{"c":19,"r":"H","x":4.48,"y":88},{"c":19,"r":"H","x":4.38,"y":50},{"c":19,"r":"H","x":4.27,"y":22},{"c":19,"r":"H","x":4.11,"y":56},{"c":19,"r":"H","x":3.96,"y":45},{"c":19,"r":"H","x":3.82,"y":29},{"c":19,"r":"H","x":3.74,"y":35},{"c":19,"r":"H","x":3.62,"y":8},{"c":19,"r":"H","x":3.54,"y":0},{"c":19,"r":"H","x":3.44,"y":0},{"c":19,"r":"H","x":3.3,"y":17},{"c":19,"r":"H","x":3.15,"y":0},{"c":19,"r":"H","x":2.2,"y":0},
{"c":20,"r":"D","x":4.6,"y":75},{"c":20,"r":"D","x":4.49,"y":70},{"c":20,"r":"D","x":4.36,"y":65},{"c":20,"r":"D","x":4.24,"y":78},{"c":20,"r":"D","x":4.12,"y":90},{"c":20,"r":"D","x":3.96,"y":49},{"c":20,"r":"D","x":3.88,"y":64},{"c":20,"r":"D","x":3.78,"y":20},{"c":20,"r":"D","x":3.68,"y":0},{"c":20,"r":"D","x":3.52,"y":22},{"c":20,"r":"D","x":3.37,"y":0},{"c":20,"r":"D","x":2.2,"y":0},
{"c":20,"r":"E","x":4.6,"y":115},{"c":20,"r":"E","x":4.51,"y":100},{"c":20,"r":"E","x":4.41,"y":86},{"c":20,"r":"E","x":4.3,"y":45},{"c":20,"r":"E","x":4.2,"y":15},{"c":20,"r":"E","x":4.07,"y":35},{"c":20,"r":"E","x":3.92,"y":59},{"c":20,"r":"E","x":3.78,"y":19},{"c":20,"r":"E","x":3.7,"y":32},{"c":20,"r":"E","x":3.52,"y":1},{"c":20,"r":"E","x":3.35,"y":16},{"c":20,"r":"E","x":3.2,"y":0},{"c":20,"r":"E","x":2.2,"y":0},
{"c":20,"r":"F","x":4.6,"y":62},{"c":20,"r":"F","x":4.49,"y":52},{"c":20,"r":"F","x":4.34,"y":86},{"c":20,"r":"F","x":4.16,"y":41},{"c":20,"r":"F","x":4.02,"y":74},{"c":20,"r":"F","x":3.9,"y":25},{"c":20,"r":"F","x":3.77,"y":0},{"c":20,"r":"F","x":3.66,"y":0},{"c":20,"r":"F","x":3.56,"y":16},{"c":20,"r":"F","x":3.4,"y":0},{"c":20,"r":"F","x":2.2,"y":0},
{"c":20,"r":"G","x":4.6,"y":74},{"c":20,"r":"G","x":4.56,"y":80},{"c":20,"r":"G","x":4.45,"y":70},{"c":20,"r":"G","x":4.34,"y":72},{"c":20,"r":"G","x":4.24,"y":50},{"c":20,"r":"G","x":4.1,"y":18},{"c":20,"r":"G","x":3.97,"y":38},{"c":20,"r":"G","x":3.9,"y":40},{"c":20,"r":"G","x":3.74,"y":19},{"c":20,"r":"G","x":3.65,"y":30},{"c":20,"r":"G","x":3.53,"y":12},{"c":20,"r":"G","x":3.45,"y":18},{"c":20,"r":"G","x":3.27,"y":0},{"c":20,"r":"G","x":2.2,"y":0},
{"c":20,"r":"H","x":4.6,"y":69},{"c":20,"r":"H","x":4.51,"y":61},{"c":20,"r":"H","x":4.45,"y":62},{"c":20,"r":"H","x":4.39,"y":59},{"c":20,"r":"H","x":4.29,"y":64},{"c":20,"r":"H","x":4.22,"y":30},{"c":20,"r":"H","x":4.14,"y":11},{"c":20,"r":"H","x":3.98,"y":75},{"c":20,"r":"H","x":3.85,"y":33},{"c":20,"r":"H","x":3.78,"y":40},{"c":20,"r":"H","x":3.65,"y":9},{"c":20,"r":"H","x":3.52,"y":40},{"c":20,"r":"H","x":3.41,"y":19},{"c":20,"r":"H","x":3.33,"y":21},{"c":20,"r":"H","x":3.2,"y":0},{"c":20,"r":"H","x":2.2,"y":0},
{"c":14,"r":"X","x":4.18,"y":87,"t":"C"},{"c":14,"r":"X","x":3.92,"y":28,"t":"B"},{"c":14,"r":"X","x":3.53,"y":30,"t":"A"},{"c":14,"r":"X","x":3.19,"y":21,"t":"X"},{"c":14,"r":"X","x":2.82,"y":10,"t":"X'"},
{"c":15,"r":"X","x":4.33,"y":82,"t":"C"},{"c":15,"r":"X","x":4.02,"y":62,"t":"B"},{"c":15,"r":"X","x":3.77,"y":45,"t":"A"},{"c":15,"r":"X","x":3.57,"y":19,"t":"X"},
{"c":16,"r":"X","x":4.2,"y":81,"t":"C"},{"c":16,"r":"X","x":4.12,"y":52,"t":"B"},{"c":16,"r":"X","x":3.93,"y":33,"t":"A"},{"c":16,"r":"X","x":3.69,"y":17,"t":"X"},
{"c":17,"r":"X","x":4.31,"y":84,"t":"C"},{"c":17,"r":"X","x":4.08,"y":60,"t":"B"},{"c":17,"r":"X","x":3.81,"y":44,"t":"A"},{"c":17,"r":"X","x":3.06,"y":18,"t":"X"},
{"c":18,"r":"X","x":4.22,"y":88,"t":"D"},{"c":18,"r":"X","x":4.0,"y":55,"t":"C"},{"c":18,"r":"X","x":3.74,"y":33,"t":"BA"},{"c":18,"r":"X","x":3.37,"y":18,"t":"X"},
{"c":19,"r":"X","x":4.33,"y":82,"t":"C"},{"c":19,"r":"X","x":4.05,"y":58,"t":"B"},{"c":19,"r":"X","x":3.73,"y":39,"t":"A"},{"c":19,"r":"X","x":3.47,"y":18,"t":"X"},
{"c":20,"r":"X","x":4.19,"y":76,"t":"C"},{"c":20,"r":"X","x":3.89,"y":51,"t":"B"},{"c":20,"r":"X","x":3.68,"y":27,"t":"A"},{"c":20,"r":"X","x":3.37,"y":13,"t":"X"},
{"c":14,"r":"X","x":2.3,"y":86,"t":"V₂Si₁₄⁻","h":1},{"c":15,"r":"X","x":2.3,"y":86,"t":"V₂Si₁₅⁻","h":1},{"c":16,"r":"X","x":2.3,"y":86,"t":"V₂Si₁₆⁻","h":1},{"c":17,"r":"X","x":2.3,"y":86,"t":"V₂Si₁₇⁻","h":1},{"c":18,"r":"X","x":2.3,"y":86,"t":"V₂Si₁₈⁻","h":1},{"c":19,"r":"X","x":2.3,"y":86,"t":"V₂Si₁₉⁻","h":1},{"c":20,"r":"X","x":2.3,"y":86,"t":"V₂Si₂₀⁻","h":1},
{"c":14,"r":"D","x":2.3,"y":87,"t":"14D","h":1},{"c":15,"r":"D","x":2.3,"y":87,"t":"15D","h":1},{"c":16,"r":"D","x":2.3,"y":87,"t":"16D","h":1},{"c":17,"r":"D","x":2.3,"y":87,"t":"17D","h":1},{"c":18,"r":"D","x":2.3,"y":87,"t":"18D","h":1},{"c":19,"r":"D","x":2.3,"y":87,"t":"19D","h":1},{"c":20,"r":"D","x":2.3,"y":87,"t":"20D","h":1},
{"c":14,"r":"E","x":2.3,"y":87,"t":"14E","h":1},{"c":15,"r":"E","x":2.3,"y":87,"t":"15E","h":1},{"c":16,"r":"E","x":2.3,"y":87,"t":"16E","h":1},{"c":17,"r":"E","x":2.3,"y":87,"t":"17E","h":1},{"c":18,"r":"E","x":2.3,"y":87,"t":"18E","h":1},{"c":19,"r":"E","x":2.3,"y":87,"t":"19E","h":1},{"c":20,"r":"E","x":2.3,"y":87,"t":"20E","h":1},
{"c":14,"r":"F","x":2.3,"y":87,"t":"14F","h":1},{"c":15,"r":"F","x":2.3,"y":87,"t":"15F","h":1},{"c":16,"r":"F","x":2.3,"y":87,"t":"16F","h":1},{"c":17,"r":"F","x":2.3,"y":87,"t":"17F","h":1},{"c":18,"r":"F","x":2.3,"y":87,"t":"18F","h":1},{"c":19,"r":"F","x":2.3,"y":87,"t":"19F","h":1},{"c":20,"r":"F","x":2.3,"y":87,"t":"20F","h":1},
{"c":14,"r":"G","x":2.3,"y":87,"t":"14G","h":1},{"c":15,"r":"G","x":2.3,"y":87,"t":"15G","h":1},{"c":16,"r":"G","x":2.3,"y":87,"t":"16G","h":1},{"c":17,"r":"G","x":2.3,"y":87,"t":"17G","h":1},{"c":18,"r":"G","x":2.3,"y":87,"t":"18G","h":1},{"c":19,"r":"G","x":2.3,"y":87,"t":"19G","h":1},{"c":20,"r":"G","x":2.3,"y":87,"t":"20G","h":1},
{"c":14,"r":"H","x":2.3,"y":87,"t":"14H","h":1},{"c":15,"r":"H","x":2.3,"y":87,"t":"15H","h":1},{"c":16,"r":"H","x":2.3,"y":87,"t":"16H","h":1},{"c":17,"r":"H","x":2.3,"y":87,"t":"17H","h":1},{"c":18,"r":"H","x":2.3,"y":87,"t":"18H","h":1},{"c":19,"r":"H","x":2.3,"y":87,"t":"19H","h":1},{"c":20,"r":"H","x":2.3,"y":87,"t":"20H","h":1}
]},
"vconcat":[
{"data":{"name":"s"},
"facet":{"row":{"field":"r","type":"nominal","header":null,"sort":["X","D","E","F","G","H"]},"column":{"field":"c","type":"ordinal","header":null}},
"spacing":{"row":0,"column":12.8},
"bounds":"flush",
"title":{"text":"Binding energy (eV)","orient":"bottom","anchor":"middle","fontSize":33,"fontWeight":"normal","font":"Liberation Serif","color":"#1a1a1a","offset":-4,"dx":-16},
"spec":{"width":141,"height":161,
"encoding":{"x":{"field":"x","type":"quantitative","scale":{"domain":[2.2,4.6],"reverse":true,"nice":false,"zero":false},"axis":{"values":[4.6,4.4,4.2,4.0,3.8,3.6,3.4,3.2,3.0,2.8,2.6,2.4,2.2],"format":".1f","labelExpr":"datum.label=='4.0'||datum.label=='3.2'||datum.label=='2.4'?datum.label:''","labelFontSize":21,"labelColor":"#1a1a1a","labelPadding":9,"labelOverlap":false,"labelFlush":false,"title":null,"domain":false,"ticks":false,"grid":true,"gridDash":[0,157,4,400],"gridColor":"#555","gridWidth":1,"gridOpacity":1}},"y":{"field":"y","type":"quantitative","scale":{"domain":[0,100],"nice":false},"axis":null}},
"layer":[
{"transform":[{"filter":"!datum.t"}],"mark":{"type":"line","clip":true,"strokeWidth":2,"interpolate":"monotone"},"encoding":{"color":{"condition":{"test":"datum.r=='X'","value":"#ff0000"},"value":"#0000ff"}}},
{"transform":[{"filter":"datum.t&&!datum.h"}],"mark":{"type":"text"},"encoding":{"text":{"field":"t"}}},
{"transform":[{"filter":"datum.h"}],"mark":{"type":"text","align":"right"},"encoding":{"text":{"field":"t"}}}
]}}
]
}
